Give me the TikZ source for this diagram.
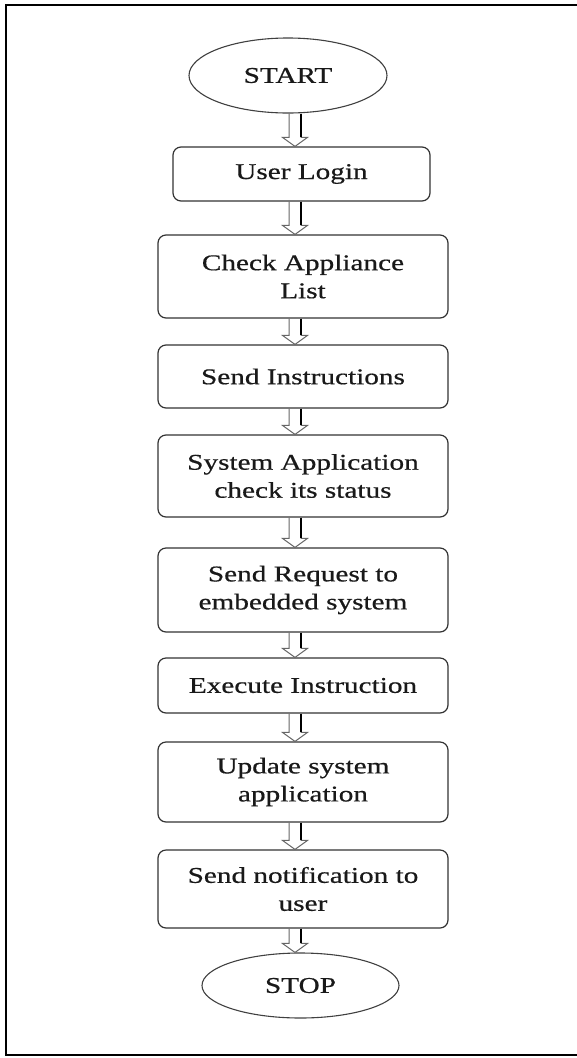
\documentclass[tikz,border=0pt]{standalone}
\usepackage{fontspec}
\setmainfont{Liberation Serif}[FakeStretch=1.3, FakeBold=0.6]
\usetikzlibrary{shapes.geometric,calc}

\tikzset{
  every node/.style={font=\fontsize{22.5}{28}\selectfont, text=black!90, align=center, inner sep=0pt},
  stepbox/.style={draw=black!80, line width=1.2pt, rounded corners=8pt},
  terminal/.style={draw=black!75, line width=1.1pt, ellipse},
  arrowline/.style={draw=black!60, line width=1pt, line join=miter},
  arrowedge/.style={draw=black, line width=1.6pt},
  frameline/.style={draw=black, line width=2.2pt}
}

% hollow block arrow from the bottom of #1 down to the top of #2
\newcommand\blockarrow[2]{%
  \draw[arrowline] let \p1=(axis |- #1.south), \p2=(axis |- #2.north) in
    (\x1-6pt,\y1) -- (\x1-6pt,\y2+9pt) -- (\x1-12.5pt,\y2+9pt) -- (\x1,\y2)
    -- (\x1+12.5pt,\y2+9pt) -- (\x1+6pt,\y2+9pt) -- (\x1+6pt,\y1);
  \draw[arrowedge] let \p1=(axis |- #1.south), \p2=(axis |- #2.north) in
    (\x1+6pt,\y1) -- (\x1+6pt,\y2+9pt);
}

\begin{document}
\begin{tikzpicture}[x=1pt, y=-1pt]
  \useasboundingbox (0,0) rectangle (577,1058);

  % page frame (open on the right)
  \draw[frameline] (577,5) -- (6,5) -- (6,1055) -- (577,1055);

  \coordinate (axis) at (295,0);

  \node[terminal, minimum width=198pt, minimum height=75pt] (start) at (288,75.5) {START};
  \node[stepbox, minimum width=257pt, minimum height=54pt] (login) at (301.5,174) {User Login};
  \node[stepbox, minimum width=290pt, minimum height=83pt] (check) at (303,276.5) {Check Appliance\\List};
  \node[stepbox, minimum width=290pt, minimum height=63pt] (send) at (303,376.5) {Send Instructions};
  \node[stepbox, minimum width=290pt, minimum height=82pt] (status) at (303,476) {System Application\\check its status};
  \node[stepbox, minimum width=290pt, minimum height=84pt] (request) at (303,590) {Send Request to\\embedded system};
  \node[stepbox, minimum width=290pt, minimum height=55pt] (exec) at (303,685.5) {Execute Instruction};
  \node[stepbox, minimum width=290pt, minimum height=80pt] (update) at (303,782) {Update system\\application};
  \node[stepbox, minimum width=290pt, minimum height=78pt] (notify) at (303,889) {Send notification to\\user};
  \node[terminal, minimum width=197pt, minimum height=65pt] (stop) at (300.5,985.5) {STOP};

  \blockarrow{start}{login}
  \blockarrow{login}{check}
  \blockarrow{check}{send}
  \blockarrow{send}{status}
  \blockarrow{status}{request}
  \blockarrow{request}{exec}
  \blockarrow{exec}{update}
  \blockarrow{update}{notify}
  \blockarrow{notify}{stop}
\end{tikzpicture}
\end{document}
